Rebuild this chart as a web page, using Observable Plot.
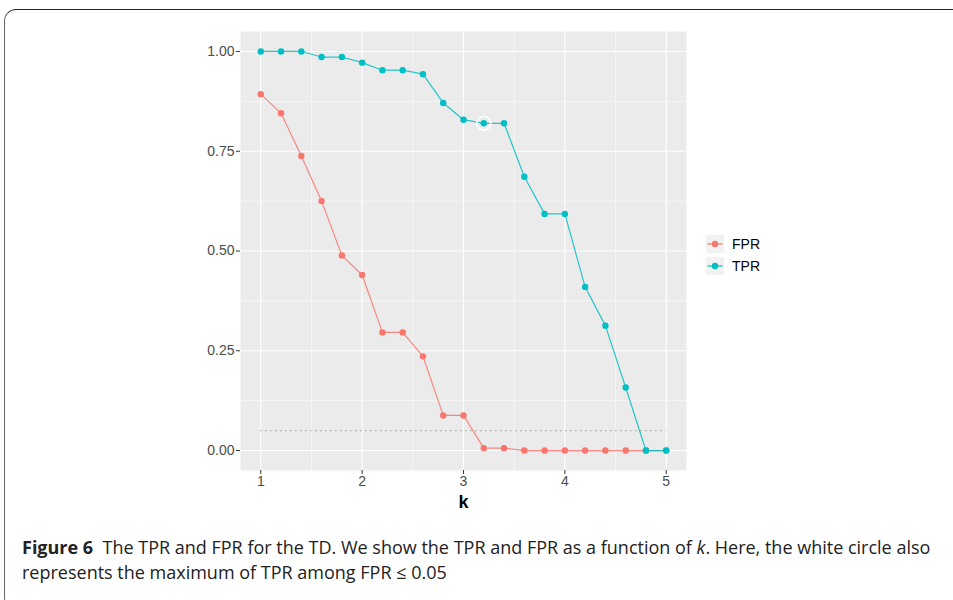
<!DOCTYPE html>
<html>
<head>
<meta charset="utf-8">
<script src="https://cdn.jsdelivr.net/npm/d3@7"></script>
<script src="https://cdn.jsdelivr.net/npm/@observablehq/plot@0.6"></script>
<style>
  html, body { margin: 0; padding: 0; background: #fff; }
  #wrap { position: relative; width: 953px; height: 600px; overflow: hidden; }
  #frame { position: absolute; left: 4px; top: 9px; width: 1000px; height: 600px;
           border: 1.5px solid #222; border-left-color: #666; border-radius: 12px; box-sizing: border-box; }
  #chart { position: absolute; left: 0; top: 0; }
  #legend { position: absolute; left: 706px; top: 233px; font-family: "Liberation Sans", Arial, sans-serif; font-size: 14px; color: #000; }
  .row { display: flex; align-items: center; height: 22px; }
  .row svg { margin-right: 8px; }
  #caption { position: absolute; left: 22px; top: 535px; width: 940px; font-family: "Open Sans", sans-serif;
             font-size: 18px; line-height: 25px; color: #222; white-space: nowrap; }
  #caption b { font-weight: bold; }
  #chart svg g[aria-label$="tick label"] text { font-family: "Liberation Sans", Arial, sans-serif !important; font-size: 14px !important; }
</style>
</head>
<body>
<div id="wrap">
  <div id="frame"></div>
  <div id="chart"></div>
  <div id="legend"></div>
  <div id="caption"><b>Figure 6</b>&nbsp; The TPR and FPR for the TD. We show the TPR and FPR as a function of <i>k</i>. Here, the white circle also<br>represents the maximum of TPR among FPR ≤ 0.05</div>
</div>
<script>
const kValues = [1.0, 1.2, 1.4, 1.6, 1.8, 2.0, 2.2, 2.4, 2.6, 2.8, 3.0, 3.2, 3.4, 3.6, 3.8, 4.0, 4.2, 4.4, 4.6, 4.8, 5.0];
const fprValues = [0.893, 0.845, 0.738, 0.625, 0.489, 0.440, 0.296, 0.296, 0.236, 0.088, 0.088, 0.006, 0.006, 0, 0, 0, 0, 0, 0, 0, 0];
const tprValues = [1.0, 1.0, 1.0, 0.986, 0.986, 0.972, 0.953, 0.953, 0.943, 0.871, 0.829, 0.820, 0.820, 0.686, 0.593, 0.593, 0.410, 0.313, 0.158, 0, 0];
const seriesNames = ["FPR", "TPR"];
const seriesColors = ["#F8766D", "#00BFC4"];
const fprThreshold = [0.05];
const xTicks = [1, 2, 3, 4, 5];
const xMinor = [1.5, 2.5, 3.5, 4.5];
const yTicks = [0, 0.25, 0.5, 0.75, 1];
const yTickLabels = ["0.00", "0.25", "0.50", "0.75", "1.00"];
const yMinor = [0.125, 0.375, 0.625, 0.875];

const data = [];
seriesNames.forEach((s, si) => {
  const vals = si === 0 ? fprValues : tprValues;
  kValues.forEach((k, i) => data.push({k, value: vals[i], series: s}));
});

// best TPR among FPR <= threshold
let best = null;
kValues.forEach((k, i) => {
  if (fprValues[i] <= fprThreshold[0] && (best === null || tprValues[i] > best.value)) best = {k, value: tprValues[i]};
});

const kExtent = d3.extent(kValues);
const pad = (kExtent[1] - kExtent[0]) * 0.05;

const chart = Plot.plot({
  width: 953,
  height: 515,
  marginLeft: 240,
  marginRight: 267,
  marginTop: 31,
  marginBottom: 45,
  style: { fontFamily: "'Liberation Sans', Arial, sans-serif", fontSize: "14px", color: "#4D4D4D", background: "transparent" },
  x: { domain: [kExtent[0] - pad, kExtent[1] + pad] },
  y: { domain: [-0.05, 1.05] },
  color: { domain: seriesNames, range: seriesColors },
  marks: [
    Plot.frame({ fill: "#EBEBEB", stroke: null }),
    Plot.ruleX(xMinor, { stroke: "#fff", strokeWidth: 0.55 }),
    Plot.ruleY(yMinor, { stroke: "#fff", strokeWidth: 0.55 }),
    Plot.ruleX(xTicks, { stroke: "#fff", strokeWidth: 1.1 }),
    Plot.ruleY(yTicks, { stroke: "#fff", strokeWidth: 1.1 }),
    Plot.ruleY(fprThreshold, { x1: kExtent[0], x2: kExtent[1], stroke: "#9a9a9a", strokeWidth: 1.1, strokeDasharray: "1.2,3.8" }),
    Plot.line(data, { x: "k", y: "value", z: "series", stroke: "series", strokeWidth: 1.2, strokeOpacity: 0.85 }),
    Plot.dot(data, { x: "k", y: "value", fill: "series", r: 3.2, stroke: null }),
    Plot.dot([best], { x: "k", y: "value", r: 7, stroke: "#fff", strokeWidth: 1.6, fill: "none" }),
    Plot.axisX({ ticks: xTicks, tickFormat: d3.format("d"), tickSize: 4, tickPadding: 2, stroke: "#333", fill: "#4D4D4D", fontSize: 14, label: null }),
    Plot.axisY({ ticks: yTicks, tickFormat: (d) => yTickLabels[yTicks.indexOf(d)], tickSize: 4, tickPadding: 2, stroke: "#333", fill: "#4D4D4D", fontSize: 14, label: null }),
    Plot.text(["k"], { frameAnchor: "bottom", dy: 37, text: d => d, fontWeight: "bold", fontSize: 18, fill: "#000" })
  ]
});
document.getElementById("chart").appendChild(chart);

const legend = d3.select("#legend");
seriesNames.forEach((s, i) => {
  const row = legend.append("div").attr("class", "row");
  const svg = row.append("svg").attr("width", 18).attr("height", 18);
  svg.append("rect").attr("width", 18).attr("height", 18).attr("fill", "#F2F2F2");
  svg.append("line").attr("x1", 1.5).attr("x2", 16.5).attr("y1", 9).attr("y2", 9).attr("stroke", seriesColors[i]).attr("stroke-width", 1.2);
  svg.append("circle").attr("cx", 9).attr("cy", 9).attr("r", 3.2).attr("fill", seriesColors[i]);
  row.append("span").text(s);
});
</script>
</body>
</html>
